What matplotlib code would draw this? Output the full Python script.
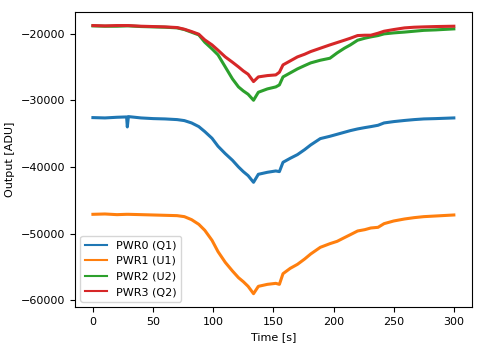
import matplotlib
matplotlib.use("Agg")
import matplotlib.pyplot as plt

t = [0, 10, 20, 28, 28.6, 29.5, 40, 50, 60, 70, 76, 82, 88, 93, 99, 104, 110, 116,
     121, 125, 129, 133.5, 137.5, 145, 152, 155, 158, 164, 170, 176, 181, 189, 197,
     203, 209, 214, 220, 226, 231, 237, 242, 250, 259, 267, 275, 285, 300]

pwr0 = [-32600, -32650, -32550, -32500, -34000, -32450, -32650, -32750, -32800, -32900,
        -33050, -33400, -33950, -34700, -35700, -36900, -38000, -39000, -40000, -40700,
        -41300, -42300, -41100, -40800, -40600, -40700, -39300, -38700, -38150, -37400,
        -36700, -35750, -35400, -35100, -34800, -34550, -34300, -34100, -33950, -33750,
        -33400, -33200, -33030, -32900, -32800, -32750, -32650]

pwr1 = [-47100, -47050, -47150, -47100, -47100, -47100, -47150, -47200, -47250, -47300,
        -47450, -47900, -48600, -49500, -51000, -52700, -54300, -55600, -56600, -57200,
        -57900, -59000, -57900, -57600, -57450, -57600, -56000, -55200, -54600, -53800,
        -53050, -52050, -51500, -51150, -50600, -50150, -49600, -49400, -49150, -49050,
        -48500, -48100, -47800, -47600, -47450, -47350, -47200]

pwr2 = [-18850, -18900, -18900, -18850, -18850, -18850, -18950, -19000, -19050, -19150,
        -19400, -19800, -20200, -21300, -22300, -23200, -25000, -26800, -28000, -28600,
        -29100, -30000, -28800, -28300, -28000, -27700, -26500, -25900, -25300, -24800,
        -24400, -24000, -23700, -22900, -22200, -21700, -21000, -20700, -20500, -20300,
        -20050, -19900, -19780, -19650, -19520, -19450, -19300]

pwr3 = [-18800, -18850, -18800, -18800, -18800, -18800, -18900, -18950, -19000, -19100,
        -19350, -19700, -20100, -20950, -21700, -22500, -23500, -24300, -25000, -25600,
        -26100, -27200, -26500, -26300, -26200, -25800, -24700, -24100, -23500, -23100,
        -22700, -22200, -21700, -21350, -21000, -20700, -20300, -20250, -20250, -19950,
        -19650, -19400, -19150, -19050, -19000, -18950, -18900]

labels = ["PWR0 (Q1)", "PWR1 (U1)", "PWR2 (U2)", "PWR3 (Q2)"]
series = [pwr0, pwr1, pwr2, pwr3]
xticks = [0, 50, 100, 150, 200, 250, 300]
yticks = [-60000, -50000, -40000, -30000, -20000]

plt.rcParams['font.size'] = 8
fig = plt.figure(figsize=(4.83, 3.47), dpi=100)
ax = fig.add_axes([0.155, 0.115, 0.822, 0.85])
for s, lab in zip(series, labels):
    ax.plot(t, s, lw=2.2, label=lab)
ax.set_xlabel("Time [s]")
ax.set_ylabel("Output [ADU]")
ax.set_xticks(xticks)
ax.set_yticks(yticks)
leg = ax.legend(loc="lower left")
for ln in leg.get_lines():
    ln.set_linewidth(1.5)
fig.savefig("out.png", dpi=100)
